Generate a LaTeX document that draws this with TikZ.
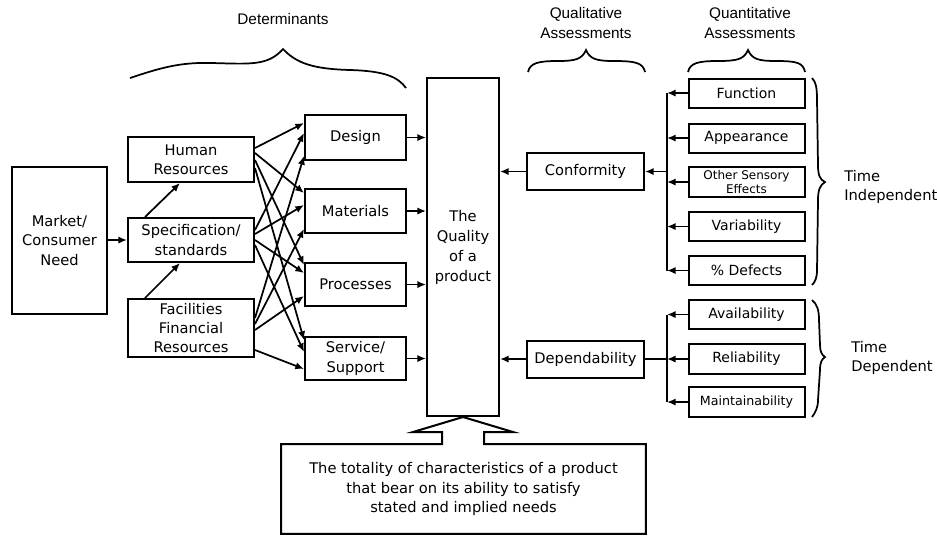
\documentclass[tikz,border=0pt]{standalone}
\usepackage{fontspec}
\setmainfont{DejaVu Sans}
\newfontfamily\hdrfont{Liberation Sans}
\usetikzlibrary{arrows.meta}
\begin{document}
\begin{tikzpicture}[x=0.75pt,y=-0.75pt,
  line width=1.3pt,
  every node/.style={font=\fontsize{11}{14.5}\selectfont},
  wh/.style 2 args={minimum width=#1*0.75pt,minimum height=#2*0.75pt},
  blk/.style={draw,line width=1.5pt,inner sep=0pt,align=center},
  arr/.style={-{Latex[length=6.5pt,width=5.5pt]}},
  small/.style={font=\fontsize{10.5}{12}\selectfont},
  hdr/.style={font=\hdrfont\fontsize{11.5}{15}\selectfont,align=center}]
\useasboundingbox (0,0) rectangle (937,537);

% column headings
\node[hdr] (hdet)  at (283,19) {Determinants};
\node[hdr] (hqual) at (586,23) {Qualitative\\Assessments};
\node[hdr] (hquan) at (750,23) {Quantitative\\Assessments};

% braces under the headings
\draw (130,78) .. controls (160,68) and (180,62) .. (212,63)
      .. controls (250,64) and (268,66) .. (283,49)
      .. controls (297,64) and (315,69) .. (350,70)
      .. controls (385,71) and (398,77) .. (406,88);
\draw (528,72) .. controls (530,63) and (538,61) .. (558,61)
      .. controls (576,61) and (582,59) .. (586,50)
      .. controls (590,59) and (596,61) .. (614,61)
      .. controls (636,61) and (643,63) .. (645,72);
\draw (688,72) .. controls (690,63) and (698,61) .. (718,61)
      .. controls (738,61) and (744,59) .. (748,50)
      .. controls (752,59) and (758,61) .. (776,61)
      .. controls (798,61) and (803,63) .. (805,72);

% determinants
\node[blk,wh={95}{147}] (mkt) at (59.5,240.5) {Market/\\Consumer\\Need};
\node[blk,wh={126}{45}] (hum) at (191,159.5) {Human\\Resources};
\node[blk,wh={126}{44}] (spec) at (191,240) {Specification/\\standards};
\node[blk,wh={126}{58}] (fac) at (191,328) {Facilities\\Financial\\Resources};

\node[blk,wh={101}{45}] (des)  at (355.5,137.5) {Design};
\node[blk,wh={101}{44}] (mat)  at (355.5,211) {Materials};
\node[blk,wh={101}{43}] (proc) at (355.5,284.5) {Processes};
\node[blk,wh={101}{43}] (serv) at (355.5,358.5) {Service/\\Support};

% central block
\node[blk,wh={72}{338},font=\fontsize{11}{15}\selectfont] (qual) at (463,247) {The\\Quality\\of a\\product};

% qualitative assessments
\node[blk,wh={117}{37}] (conf) at (585.5,171.5) {Conformity};
\node[blk,wh={117}{37}] (dep)  at (585.5,359) {Dependability};

% quantitative assessments
\node[blk,small,wh={116}{29}] (fun) at (746.5,93) {Function};
\node[blk,small,wh={116}{29}] (app) at (746.5,138) {Appearance};
\node[blk,wh={116}{30},font=\fontsize{9}{10.5}\selectfont] (oth) at (746.5,182) {Other Sensory\\Effects};
\node[blk,small,wh={116}{29}] (var) at (746.5,226.5) {Variability};
\node[blk,small,wh={116}{29}] (pct) at (746.5,270.5) {\% Defects};
\node[blk,small,wh={116}{29}] (ava) at (746.5,314.5) {Availability};
\node[blk,small,wh={116}{30}] (rel) at (746.5,359) {Reliability};
\node[blk,wh={116}{30},font=\fontsize{9.5}{11}\selectfont] (mai) at (746.5,402) {Maintainability};

% time braces and labels
\draw (812,78) .. controls (816,82) and (817,88) .. (817,100) -- (818,165)
      .. controls (818,175) and (820,180) .. (825,182)
      .. controls (820,185) and (818,190) .. (818,200) -- (817,270)
      .. controls (817,278) and (815,282) .. (812,285);
\draw (812,300) .. controls (817,304) and (819,310) .. (819,320) -- (820,345)
      .. controls (820,352) and (822,355) .. (825,357)
      .. controls (822,359) and (820,362) .. (820,370) -- (818,400)
      .. controls (818,408) and (815,413) .. (812,417);
\node[anchor=west,align=left] (ti) at (839,187) {Time\\Independent};
\node[anchor=west,align=left] (td) at (846,358) {Time\\Dependent};

% definition callout
\node[inner sep=0pt,align=center,wh={363}{88}] (def) at (463.5,489)
  {The totality of characteristics of a product\\that bear on its ability to satisfy\\stated and implied needs};
\draw[line width=1.5pt] (def.north west) -- (def.north west -| 442,0) -- (442,432) -- (413,432)
  -- (qual.south) -- (513,432) -- (484,432) -- (def.north west -| 484,0)
  -- (def.north east) -- (def.south east) -- (def.south west) -- cycle;

% connectors on the left
\draw[arr] (mkt.east |- spec.west) -- (spec.west);
\draw[arr] (spec.north west -| 145,0) -- (hum.south west -| 180,0);
\draw[arr] (fac.north west -| 145,0) -- (spec.south west -| 180,0);

\draw[arr] (hum.east |- 0,148) -- (des.west |- 0,123);
\draw[arr] (hum.east |- 0,153) -- (mat.west |- 0,193);
\draw[arr] (hum.east |- 0,160) -- (proc.west |- 0,265);
\draw[arr] (hum.east |- 0,168) -- (serv.west |- 0,340);
\draw[arr] (spec.east |- 0,230) -- (des.west |- 0,133);
\draw[arr] (spec.east |- 0,234) -- (mat.west |- 0,205);
\draw[arr] (spec.east |- 0,240) -- (proc.west |- 0,273);
\draw[arr] (spec.east |- 0,245) -- (serv.west |- 0,352);
\draw[arr] (fac.east |- 0,318) -- (des.west |- 0,156);
\draw[arr] (fac.east |- 0,324) -- (mat.west |- 0,229);
\draw[arr] (fac.east |- 0,330) -- (proc.west |- 0,296);
\draw[arr] (fac.east |- 0,350) -- (serv.west |- 0,369);

\foreach \n in {des,mat,proc,serv} \draw[arr] (\n.east) -- (qual.west |- \n.east);

% connectors on the right
\draw[arr] (conf.west) -- (qual.east |- conf.west);
\draw[arr] (dep.west) -- (qual.east |- dep.west);
\coordinate (trk) at (667,0);
\draw (trk |- fun.west) -- (trk |- pct.west);
\foreach \n in {fun,app,oth,var,pct} \draw[arr] (\n.west) -- (trk |- \n.west);
\draw[arr] (trk |- conf.east) -- (conf.east);
\draw (trk |- ava.west) -- (trk |- mai.west);
\foreach \n in {ava,rel,mai} \draw[arr] (\n.west) -- (trk |- \n.west);
\draw (dep.east) -- (trk |- dep.east);
\end{tikzpicture}
\end{document}
